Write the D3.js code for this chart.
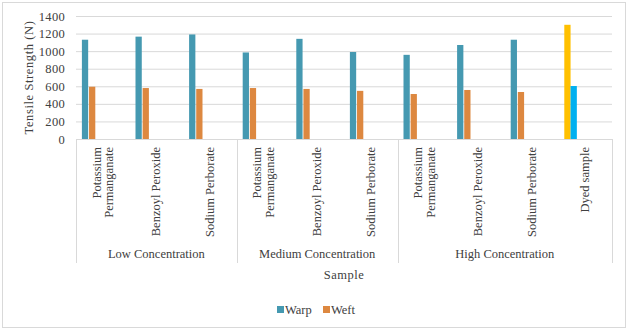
<!DOCTYPE html>
<html>
<head>
<meta charset="utf-8">
<script src="https://cdn.jsdelivr.net/npm/d3@7"></script>
<style>
  body { margin: 0; background: #fff; }
  svg text { font-family: "Liberation Serif", "DejaVu Serif", serif; fill: #404040; }
</style>
</head>
<body>
<div id="chart"></div>
<script>
// sample names (lines split for wrapped labels) and their concentration group
const categories = [
  ["Potassium", "Permanganate"], ["Benzoyl Peroxide"], ["Sodium Perborate"],
  ["Potassium", "Permanganate"], ["Benzoyl Peroxide"], ["Sodium Perborate"],
  ["Potassium", "Permanganate"], ["Benzoyl Peroxide"], ["Sodium Perborate"],
  ["Dyed sample"]
];
const groups = ["Low Concentration", "Medium Concentration", "High Concentration"];
const groupSpans = [[0, 3], [3, 6], [6, 10]];
const warp = [1130, 1165, 1190, 985, 1140, 990, 958, 1070, 1130, 1300];
const weft = [595, 580, 570, 580, 570, 548, 512, 558, 535, 603];
const yTicks = [0, 200, 400, 600, 800, 1000, 1200, 1400];

const width = 629, height = 331;
const margin = {left: 76, right: 17, top: 16, bottom: 192};
const font = "'Liberation Serif', 'DejaVu Serif', serif";

const svg = d3.select("#chart").append("svg")
    .attr("width", width)
    .attr("height", height)
    .attr("font-family", font);

svg.append("rect")
    .attr("x", 2.5).attr("y", 2.5)
    .attr("width", 623).attr("height", 325)
    .attr("fill", "#fff")
    .attr("stroke", "#d9d9d9");

const idx = d3.range(categories.length);
const x = d3.scaleBand().domain(idx).range([margin.left, width - margin.right]);
const y = d3.scaleLinear().domain([0, 1400]).range([height - margin.bottom, margin.top]);

// inner position of warp/weft bars inside each category
const inner = d3.scaleBand().domain(["warp", "weft"])
    .range([x.bandwidth() * 0.11, x.bandwidth() * 0.36])
    .paddingInner(0.12);

// gridlines
svg.append("g")
    .selectAll("line")
    .data(yTicks.slice(1))
    .join("line")
    .attr("x1", margin.left).attr("x2", width - margin.right)
    .attr("y1", d => y(d) + 0.5).attr("y2", d => y(d) + 0.5)
    .attr("stroke", "#d9d9d9");

// y axis labels
const yAxis = svg.append("g")
    .attr("transform", `translate(${margin.left},0)`)
    .call(d3.axisLeft(y).tickValues(yTicks).tickFormat(d3.format("d")).tickSize(0).tickPadding(11))
    .attr("font-family", font)
    .attr("font-size", 12.5);
yAxis.select(".domain").remove();
yAxis.selectAll("text").attr("fill", "#404040").attr("letter-spacing", "0.3px");

// bars
const warpColor = "#4599b1", weftColor = "#dd8840";
const bars = svg.append("g");
bars.selectAll("rect.warp")
    .data(idx)
    .join("rect")
    .attr("class", "warp")
    .attr("x", i => x(i) + inner("warp"))
    .attr("width", inner.bandwidth())
    .attr("y", i => y(warp[i]))
    .attr("height", i => y(0) - y(warp[i]))
    .attr("fill", i => i === 9 ? "#ffc000" : warpColor);
bars.selectAll("rect.weft")
    .data(idx)
    .join("rect")
    .attr("class", "weft")
    .attr("x", i => x(i) + (i === 9 ? inner("warp") + inner.bandwidth() : inner("weft")))
    .attr("width", inner.bandwidth())
    .attr("y", i => y(weft[i]))
    .attr("height", i => y(0) - y(weft[i]))
    .attr("fill", i => i === 9 ? "#00b0f0" : weftColor);

// x axis line and group separators
const y0 = y(0);
svg.append("line")
    .attr("x1", margin.left).attr("x2", width - margin.right)
    .attr("y1", y0 + 0.5).attr("y2", y0 + 0.5)
    .attr("stroke", "#d9d9d9");
const sepX = [margin.left, x(3), x(6), width - margin.right];
svg.append("g")
    .selectAll("line")
    .data(sepX)
    .join("line")
    .attr("x1", d => Math.round(d) + 0.5).attr("x2", d => Math.round(d) + 0.5)
    .attr("y1", y0).attr("y2", y0 + 124)
    .attr("stroke", "#d9d9d9");

// category labels, rotated
const catG = svg.append("g");
idx.forEach(i => {
  const lines = categories[i];
  const cx = x(i) + x.bandwidth() / 2;
  const t = catG.append("text")
      .attr("transform", `translate(${cx},${y0 + 8}) rotate(-90)`)
      .attr("text-anchor", "end")
      .style("font-size", "12.5px");
  lines.forEach((s, k) => {
    t.append("tspan")
        .attr("x", 0)
        .attr("y", (k - (lines.length - 1) / 2) * 12.5 + 4)
        .text(s);
  });
});

// group labels
svg.append("g")
    .selectAll("text")
    .data(groups)
    .join("text")
    .attr("x", (d, k) => (x(groupSpans[k][0]) + (groupSpans[k][1] === 10 ? width - margin.right : x(groupSpans[k][1]))) / 2)
    .attr("y", y0 + 119)
    .attr("text-anchor", "middle")
    .style("font-size", "12.5px")
    .text(d => d);

// axis titles
svg.append("text")
    .attr("x", (margin.left + width - margin.right) / 2)
    .attr("y", 279)
    .attr("text-anchor", "middle")
    .attr("letter-spacing", "0.5px")
    .style("font-size", "12.5px")
    .text("Sample");
svg.append("text")
    .attr("transform", `translate(33,${(y(0) + y(1400)) / 2}) rotate(-90)`)
    .attr("text-anchor", "middle")
    .attr("letter-spacing", "0.6px")
    .style("font-size", "12.5px")
    .text("Tensile Strength  (N)");

// legend
const legend = svg.append("g").attr("transform", "translate(277,306)");
[["Warp", warpColor, 0], ["Weft", weftColor, 46]].forEach(([name, color, dx]) => {
  legend.append("rect")
      .attr("x", dx).attr("y", 0)
      .attr("width", 7).attr("height", 7)
      .attr("fill", color);
  legend.append("text")
      .attr("x", dx + 8).attr("y", 7.5)
      .style("font-size", "12.5px")
      .text(name);
});
</script>
</body>
</html>
